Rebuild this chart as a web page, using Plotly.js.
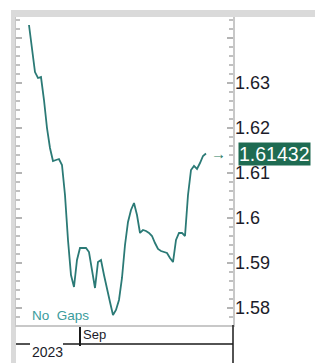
<!DOCTYPE html>
<html>
<head>
<meta charset="utf-8">
<script src="https://cdn.plot.ly/plotly-3.0.1.min.js"></script>
<style>html,body{margin:0;padding:0;background:#fff;}#chart{width:315px;height:363px;}</style>
</head>
<body>
<div id="chart"></div>
<script>
const dates = [
  '2023-08-09','2023-08-10','2023-08-11','2023-08-14','2023-08-15','2023-08-16','2023-08-17','2023-08-18',
  '2023-08-21','2023-08-22','2023-08-23','2023-08-24','2023-08-25','2023-08-28','2023-08-29','2023-08-30','2023-08-31',
  '2023-09-01','2023-09-04','2023-09-05','2023-09-06','2023-09-07','2023-09-08',
  '2023-09-11','2023-09-12','2023-09-13','2023-09-14','2023-09-15',
  '2023-09-18','2023-09-19','2023-09-20','2023-09-21','2023-09-22',
  '2023-09-25','2023-09-26','2023-09-27','2023-09-28','2023-09-29',
  '2023-10-02','2023-10-03','2023-10-04','2023-10-05','2023-10-06',
  '2023-10-09','2023-10-10','2023-10-11','2023-10-12','2023-10-13',
  '2023-10-16','2023-10-17','2023-10-18','2023-10-19','2023-10-20',
  '2023-10-23','2023-10-24','2023-10-25','2023-10-26','2023-10-27',
  '2023-10-30','2023-10-31'
];
const closes = [
  1.64289,1.63822,1.63244,1.63111,1.63133,1.62622,1.62000,1.61556,1.61267,1.61289,
  1.61311,1.61178,1.60511,1.59511,1.58733,1.58467,1.59067,1.59333,1.59333,1.59333,
  1.59244,1.58844,1.58444,1.59022,1.59067,1.58733,1.58467,1.58133,1.57844,1.57956,
  1.58178,1.58667,1.59400,1.59911,1.60178,1.60333,1.60067,1.59667,1.59733,1.59711,
  1.59667,1.59600,1.59444,1.59311,1.59267,1.59244,1.59222,1.59111,1.59022,1.59511,
  1.59667,1.59667,1.59600,1.60511,1.61067,1.61156,1.61089,1.61222,1.61378,1.61432
];
const yTickVals = [1.58, 1.59, 1.60, 1.61, 1.62, 1.63, 1.64];
const yTickText = ['1.58', '1.59', '1.6', '1.61', '1.62', '1.63', ''];
const monthTickDate = '2023-09-01';
const monthTickText = 'Sep';
const yearText = '2023';
const watermark = 'No\u00a0\u00a0Gaps';
const lastPrice = closes[closes.length - 1];
const lastPriceText = '1.61432';

const monthIdx = dates.indexOf(monthTickDate);

const trace = {
  x: dates.map((d, i) => i),
  y: closes,
  type: 'scatter',
  mode: 'lines',
  line: {color: '#2b7a76', width: 1.8},
  hoverinfo: 'skip'
};

const layout = {
  width: 315, height: 363,
  margin: {l: 16, r: 82, t: 17, b: 38, pad: 0},
  paper_bgcolor: '#ffffff',
  plot_bgcolor: '#ffffff',
  showlegend: false,
  font: {family: 'Liberation Sans, Arial, sans-serif', color: '#1c1c2a'},
  xaxis: {
    range: [-4.33, 68],
    showgrid: false, zeroline: false,
    showline: true, linecolor: '#c8c8c8', linewidth: 1.5,
    tickmode: 'array', tickvals: [monthIdx], ticktext: [''],
    ticks: 'outside', ticklen: 19, tickwidth: 1.5, tickcolor: '#1a1a1a',
    fixedrange: true
  },
  yaxis: {
    side: 'right',
    range: [1.57622, 1.64467],
    showgrid: false, zeroline: false,
    showline: true, linecolor: '#c8c8c8', linewidth: 1.5, mirror: 'ticks',
    tickmode: 'array', tickvals: yTickVals, ticktext: yTickText,
    ticks: 'inside', ticklen: 6, tickwidth: 1.2, tickcolor: '#b4b4b4',
    minor: {tickmode: 'linear', tick0: 1.58, dtick: 0.002, ticks: 'inside', ticklen: 4, tickwidth: 1.2, tickcolor: '#c0c0c0'},
    tickfont: {size: 18, color: '#1c1c2a'},
    ticklabelstandoff: -3,
    fixedrange: true
  },
  shapes: [
    {type: 'rect', xref: 'paper', yref: 'paper', x0: -0.023, x1: 1.378, y0: 1.0, y1: 1.0227, fillcolor: '#dadada', line: {width: 0}, layer: 'below'},
    {type: 'rect', xref: 'paper', yref: 'paper', x0: -0.023, x1: 0, y0: -0.1234, y1: 1.0227, fillcolor: '#dadada', line: {width: 0}, layer: 'below'},
    {type: 'line', xref: 'paper', yref: 'paper', x0: 1, x1: 1, y0: 0, y1: -0.1234, line: {color: '#1a1a1a', width: 1.5}},
    {type: 'line', xref: 'paper', yref: 'paper', x0: 0, x1: 0.0645, y0: -0.0617, y1: -0.0617, line: {color: '#1a1a1a', width: 1.5}},
    {type: 'line', xref: 'paper', yref: 'paper', x0: 0.2166, x1: 1, y0: -0.0617, y1: -0.0617, line: {color: '#1a1a1a', width: 1.5}}
  ],
  annotations: [
    {text: monthTickText, xref: 'x', yref: 'paper', x: monthIdx, y: -0.031, xanchor: 'left', yanchor: 'middle', xshift: 1, showarrow: false, font: {size: 13, color: '#1c1c2a'}},
    {text: yearText, xref: 'paper', yref: 'paper', x: 0.143, y: -0.088, xanchor: 'center', yanchor: 'middle', showarrow: false, font: {size: 14, color: '#1c1c2a'}},
    {text: watermark, xref: 'paper', yref: 'paper', x: 0.063, y: 0.031, xanchor: 'left', yanchor: 'middle', showarrow: false, font: {size: 13.5, color: '#3b9c9c'}},
    {text: lastPriceText, xref: 'paper', yref: 'y', x: 1, y: lastPrice, xanchor: 'left', yanchor: 'middle', xshift: 5, showarrow: false, bgcolor: '#1e6b52', borderpad: 0, font: {size: 19.5, color: '#ffffff'}},
    {text: '<b>→</b>', xref: 'paper', yref: 'y', x: 0.935, y: lastPrice, xanchor: 'center', yanchor: 'middle', showarrow: false, font: {size: 15, color: '#2a7a60'}}
  ]
};

Plotly.newPlot('chart', [trace], layout, {displayModeBar: false, staticPlot: true});
</script>
</body>
</html>
